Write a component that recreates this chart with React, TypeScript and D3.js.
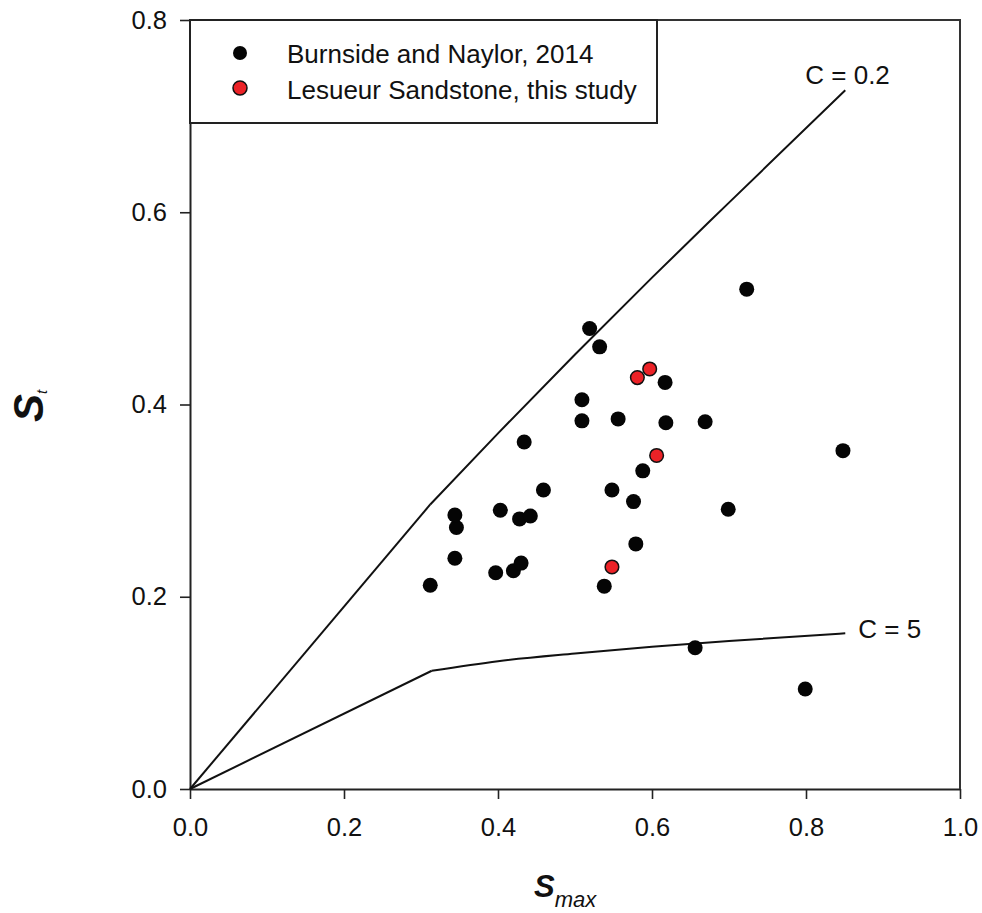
import React, { useEffect, useRef } from 'react';
import * as d3 from 'd3';

// Burnside and Naylor, 2014
const burnsideSmax = [0.312, 0.344, 0.346, 0.344, 0.397, 0.42, 0.43, 0.403, 0.428, 0.442, 0.459, 0.434, 0.519, 0.532, 0.509, 0.509, 0.556, 0.617, 0.618, 0.588, 0.548, 0.576, 0.579, 0.538, 0.723, 0.669, 0.848, 0.699, 0.656, 0.799];
const burnsideSt = [0.212, 0.24, 0.272, 0.285, 0.225, 0.227, 0.235, 0.29, 0.281, 0.284, 0.311, 0.361, 0.479, 0.46, 0.405, 0.383, 0.385, 0.423, 0.381, 0.331, 0.311, 0.299, 0.255, 0.211, 0.52, 0.382, 0.352, 0.291, 0.147, 0.104];

// Lesueur Sandstone, this study
const lesueurSmax = [0.581, 0.597, 0.606, 0.548];
const lesueurSt = [0.428, 0.437, 0.347, 0.231];

// bounding curves (straight from origin to the kink, curved after it)
const c02Smax = [0, 0.312, 0.4, 0.5, 0.6, 0.7, 0.851];
const c02St = [0, 0.296, 0.37, 0.452, 0.532, 0.61, 0.727];
const c5Smax = [0, 0.314, 0.4, 0.5, 0.6, 0.7, 0.851];
const c5St = [0, 0.123, 0.133, 0.141, 0.148, 0.154, 0.162];

const xTicks = [0, 0.2, 0.4, 0.6, 0.8, 1.0];
const yTicks = [0, 0.2, 0.4, 0.6, 0.8];

const FONT = 'Arial, "Liberation Sans", Helvetica, sans-serif';

const ScatterChart = () => {
  const svgRef = useRef<SVGSVGElement>(null);

  useEffect(() => {
    const svg = d3.select(svgRef.current);
    svg.selectAll('*').remove();

    const x = d3.scaleLinear().domain([0, 1]).range([190, 960]);
    const y = d3.scaleLinear().domain([0, 0.8]).range([789, 20]);

    // axes
    const xAxis = svg.append('g')
      .attr('transform', 'translate(0, 789)')
      .call(d3.axisBottom(x).tickValues(xTicks).tickSize(10).tickSizeOuter(0).tickPadding(19).tickFormat(d3.format('.1f')));
    const yAxis = svg.append('g')
      .attr('transform', 'translate(190, 0)')
      .call(d3.axisLeft(y).tickValues(yTicks).tickSize(10).tickSizeOuter(0).tickPadding(13).tickFormat(d3.format('.1f')));

    [xAxis, yAxis].forEach(g => {
      g.select('.domain').attr('stroke', '#222').attr('stroke-width', 2);
      g.selectAll('.tick line').attr('stroke', '#222').attr('stroke-width', 1.6);
      g.selectAll('.tick text')
        .attr('fill', '#111')
        .style('font-family', FONT)
        .style('font-size', '25.5px');
    });

    // frame top and right
    svg.append('path')
      .attr('d', `M190,${y(0.8)}H${x(1)}V${y(0)}`)
      .attr('fill', 'none')
      .attr('stroke', '#333')
      .attr('stroke-width', 2);

    // curves
    const straight = d3.line<[number, number]>()
      .x(d => x(d[0]))
      .y(d => y(d[1]));
    const smooth = d3.line<[number, number]>()
      .x(d => x(d[0]))
      .y(d => y(d[1]))
      .curve(d3.curveMonotoneX);

    [[c02Smax, c02St], [c5Smax, c5St]].forEach(([xs, ys]) => {
      const pts = xs.map((v, i) => [v, ys[i]]) as [number, number][];
      svg.append('path')
        .attr('d', straight(pts.slice(0, 2)))
        .attr('fill', 'none')
        .attr('stroke', '#111')
        .attr('stroke-width', 2);
      svg.append('path')
        .attr('d', smooth(pts.slice(1)))
        .attr('fill', 'none')
        .attr('stroke', '#111')
        .attr('stroke-width', 2);
    });

    svg.append('text')
      .attr('x', x(0.851) - 40)
      .attr('y', y(0.727) - 6)
      .text('C = 0.2')
      .attr('fill', '#111')
      .style('font-family', FONT)
      .style('font-size', '26px');

    svg.append('text')
      .attr('x', x(0.851) + 13)
      .attr('y', y(0.162) + 5)
      .text('C = 5')
      .attr('fill', '#111')
      .style('font-family', FONT)
      .style('font-size', '26px');

    // points
    svg.selectAll('.burnside')
      .data(burnsideSmax.map((v, i) => [v, burnsideSt[i]]))
      .enter()
      .append('circle')
      .attr('class', 'burnside')
      .attr('cx', d => x(d[0]))
      .attr('cy', d => y(d[1]))
      .attr('r', 7.5)
      .attr('fill', '#050505');

    svg.selectAll('.lesueur')
      .data(lesueurSmax.map((v, i) => [v, lesueurSt[i]]))
      .enter()
      .append('circle')
      .attr('class', 'lesueur')
      .attr('cx', d => x(d[0]))
      .attr('cy', d => y(d[1]))
      .attr('r', 6.8)
      .attr('fill', '#ec2227')
      .attr('stroke', '#111')
      .attr('stroke-width', 1.5);

    // legend
    svg.append('rect')
      .attr('x', 190)
      .attr('y', 20)
      .attr('width', 467)
      .attr('height', 103)
      .attr('fill', '#fff')
      .attr('stroke', '#222')
      .attr('stroke-width', 2);

    const legend = [
      { label: 'Burnside and Naylor, 2014', fill: '#050505', stroke: 'none', cy: 53, ty: 63 },
      { label: 'Lesueur Sandstone, this study', fill: '#ec2227', stroke: '#111', cy: 88, ty: 99 }
    ];
    legend.forEach(l => {
      svg.append('circle')
        .attr('cx', 240)
        .attr('cy', l.cy)
        .attr('r', 7)
        .attr('fill', l.fill)
        .attr('stroke', l.stroke)
        .attr('stroke-width', 1.5);
      svg.append('text')
        .attr('x', 287)
        .attr('y', l.ty)
        .text(l.label)
        .attr('fill', '#111')
        .style('font-family', FONT)
        .style('font-size', '26px');
    });

    // axis titles
    const xt = svg.append('text')
      .attr('x', 534)
      .attr('y', 897)
      .attr('fill', '#111')
      .style('font-family', FONT);
    xt.append('tspan').text('S').style('font-size', '31px').style('font-weight', 'bold').style('font-style', 'italic');
    xt.append('tspan').text('max').attr('dy', 10).style('font-size', '22px').style('font-style', 'italic');

    const yt = svg.append('text')
      .attr('transform', 'translate(43, 422) rotate(-90)')
      .attr('fill', '#111')
      .style('font-family', FONT);
    yt.append('tspan').text('S').style('font-size', '42px').style('font-weight', 'bold').style('font-style', 'italic');
    yt.append('tspan').text('t').attr('dy', 4).style('font-size', '15px').style('font-style', 'italic');
  }, []);

  return <svg ref={svgRef} width={982} height={913} style={{ position: 'absolute', left: 0, top: 0, background: '#fff' }}></svg>;
};

export default function App() {
  return <ScatterChart />;
}
